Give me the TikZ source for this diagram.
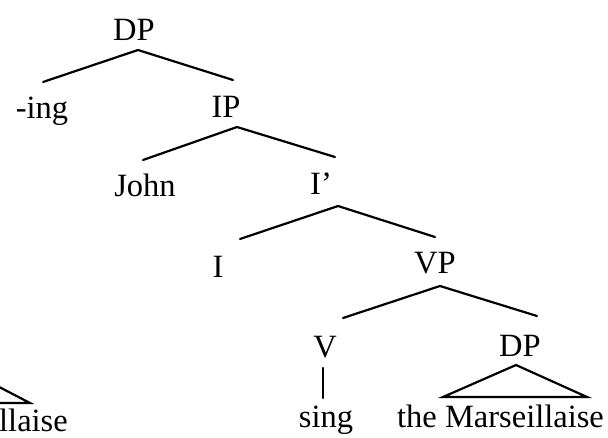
\documentclass[tikz,border=0pt]{standalone}
\usepackage{fontspec}
\setmainfont{Liberation Serif}
\begin{document}
\begin{tikzpicture}[x=1pt,y=-1pt,
  lbl/.style={anchor=base,inner sep=0pt,font=\fontsize{32.5}{36}\selectfont},
  br/.style={line width=2.2pt,line join=miter,line cap=round}]
\useasboundingbox (0,0) rectangle (608,437);
\clip (0,0) rectangle (608,437);
% labels
\node[lbl] (dp)   at (134,40)  {DP};
\node[lbl] (ing)  at (42,118)  {-ing};
\node[lbl] (ip)   at (226,117) {IP};
\node[lbl] (john) at (145,196) {John};
\node[lbl] (ib)   at (321,194) {I’};
\node[lbl] (i)    at (218,277) {I};
\node[lbl] (vp)   at (435,273) {VP};
\node[lbl] (v)    at (325,357) {V};
\node[lbl] (dp2)  at (520,356) {DP};
\node[lbl] (sing) at (326,427) {sing};
\node[lbl,anchor=base west] (mars) at (397,427) {the Marseillaise};
\node[lbl,anchor=base east] (llaise) at (68,431) {llaise};
% branch points
\coordinate (dpA) at (138,50);  \coordinate (dpL) at (43,82);   \coordinate (dpR) at (233,80);
\coordinate (ipA) at (237,127); \coordinate (ipL) at (143,160); \coordinate (ipR) at (335,157);
\coordinate (ibA) at (338,206); \coordinate (ibL) at (240,239); \coordinate (ibR) at (435,237);
\coordinate (vpA) at (440,286); \coordinate (vpL) at (343,318); \coordinate (vpR) at (537,316);
\coordinate (vT) at (323,368);  \coordinate (vB) at (323,398);
\coordinate (trA) at (516,365); \coordinate (trL) at (443,397); \coordinate (trR) at (587,397);
\coordinate (ltA) at (-20,377); \coordinate (ltR) at (30,403); \coordinate (ltL) at (-20,403);
% branches
\draw[br] (dpL) -- (dpA) -- (dpR);
\draw[br] (ipL) -- (ipA) -- (ipR);
\draw[br] (ibL) -- (ibA) -- (ibR);
\draw[br] (vpL) -- (vpA) -- (vpR);
\draw[br] (vT) -- (vB);
\draw[br] (trA) -- (trL) -- (trR) -- cycle;
\draw[br] (ltA) -- (ltR) -- (ltL);
\end{tikzpicture}
\end{document}
